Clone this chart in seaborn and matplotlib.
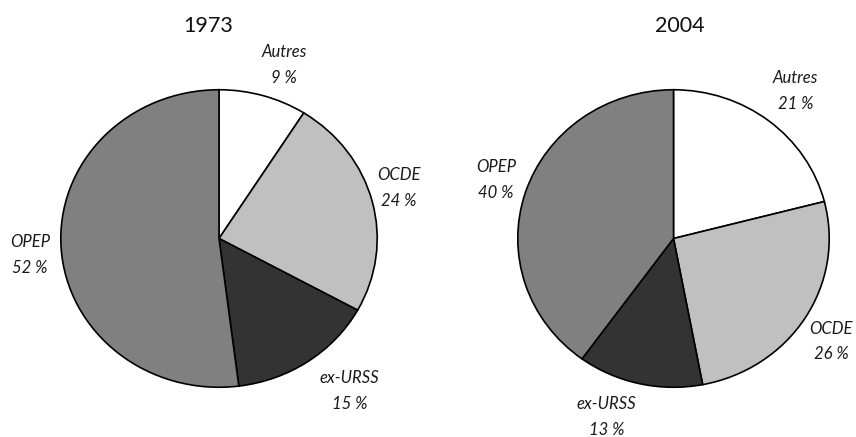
import matplotlib
matplotlib.use("Agg")
import matplotlib.pyplot as plt
import seaborn as sns

# ---- data ----
categories = ["Autres", "OCDE", "ex-URSS", "OPEP"]
years = ["1973", "2004"]
shares_1973 = [9, 24, 15, 52]
shares_2004 = [21, 26, 13, 40]

sns.set_theme(style="white")
plt.rcParams['font.family'] = ['Lato', 'DejaVu Sans']
colors = sns.color_palette(["#ffffff", "#c0c0c0", "#333333", "#808080"])

fig = plt.figure(figsize=(8.56, 4.37), dpi=100)
fig.patch.set_facecolor("white")

# axes boxes in figure fraction (pie drawn as slight ellipse)
boxes = [
    [60 / 856, (437 - 388) / 437, 318 / 856, 299 / 437],
    [517 / 856, (437 - 388) / 437, 313 / 856, 299 / 437],
]
# label positions (axes data coords), per pie, in category order
label_pos = [
    [(0.41, 1.167), (1.138, 0.338), (0.824, -1.027), (-1.195, -0.110)],
    [(0.783, 0.993), (1.013, -0.692), (-0.431, -1.201), (-1.141, 0.391)],
]
title_pos = [(-0.069, 1.428), (0.042, 1.428)]

for i, (year, vals) in enumerate(zip(years, [shares_1973, shares_2004])):
    ax = fig.add_axes(boxes[i])
    ax.pie(vals, colors=colors, startangle=90, counterclock=False,
           radius=1.0, wedgeprops=dict(edgecolor="black", linewidth=1.2))
    ax.set_aspect("auto")
    ax.set_xlim(-1.005, 1.005)
    ax.set_ylim(-1.005, 1.005)
    ax.axis("off")
    for (x, y), cat, v in zip(label_pos[i], categories, vals):
        ax.text(x, y, f"{cat}\n{v} %", ha="center", va="center",
                fontsize=12, style="italic", color="#1a1a1a",
                linespacing=1.75)
    tx, ty = title_pos[i]
    ax.text(tx, ty, year, ha="center", va="center", fontsize=15.5,
            color="#111111")

fig.savefig("out.png", dpi=100, facecolor="white")
